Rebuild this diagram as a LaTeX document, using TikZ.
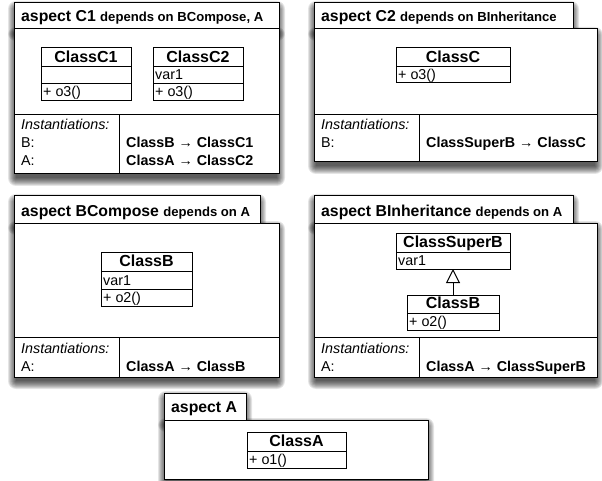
\documentclass[tikz,border=0pt]{standalone}
\usepackage{fontspec}
\setmainfont{Liberation Sans}
\usetikzlibrary{arrows.meta}
\newcommand\softshade[4]{%
  \foreach \i in {0,...,8}{%
    \fill[black,opacity=0.1,rounded corners={\i pt}] ({#1-\i+2},{#2+6-\i}) rectangle ({#3+\i-2},{#4+4+\i});}}
\newcommand\aspectframe[8]{% x1 ytab xtabr ybody x2 ybot ydiv xdiv
  \softshade{#1}{#2}{#3}{#4}
  \softshade{#1}{#4}{#5}{#6}
  \draw[frame] (#1,#2) rectangle (#3,#4);
  \draw[frame] (#1,#4) rectangle (#5,#6);
  \draw[frame] (#1,#7) -- (#5,#7);
  \draw[frame] (#8,#7) -- (#8,#6);}
\tikzset{
  frame/.style={draw=black,fill=white,line width=1pt},
  classbox/.style={draw=black,fill=white,line width=1pt,inner sep=0pt,outer sep=0pt},
  sepline/.style={draw=black,line width=1pt},
  titlet/.style={font=\bfseries,anchor=base west,inner sep=0pt},
  cname/.style={font=\fontsize{16}{19}\selectfont\bfseries,anchor=base,inner sep=0pt},
  attr/.style={font=\fontsize{14.3}{17}\selectfont,anchor=base west,inner sep=0pt},
  inst/.style={font=\fontsize{14.3}{17}\selectfont\itshape,anchor=base west,inner sep=0pt},
  lbl/.style={font=\fontsize{14.3}{17}\selectfont,anchor=base west,inner sep=0pt},
  map/.style={font=\fontsize{14.3}{17}\selectfont\bfseries,anchor=base west,inner sep=0pt},
}
\newcommand\bigtitle{\fontsize{15.8}{19}\selectfont}
\newcommand\smalltitle{\fontsize{13.1}{16}\selectfont}
\begin{document}
\begin{tikzpicture}[x=1pt,y=-1pt]
\useasboundingbox (0,0) rectangle (602,481);
\fill[white] (0,0) rectangle (602,481);

% ---------- aspect C1 ----------
\aspectframe{14}{3}{279}{29}{279}{174}{115}{119}
\node[titlet] (tC1) at (21,22) {\bigtitle aspect C1 \smalltitle depends on BCompose, A};
\node[classbox,minimum width=90pt,minimum height=53pt] (cC1) at (86,74.5) {};
\draw[sepline] (41,67) -- (131,67);
\draw[sepline] (41,84) -- (131,84);
\node[cname] (cC1n) at (86,62.5) {ClassC1};
\node[attr] (cC1o) at (43,97) {+ o3()};
\node[classbox,minimum width=90pt,minimum height=53pt] (cC2) at (198,74.5) {};
\draw[sepline] (153,67) -- (243,67);
\draw[sepline] (153,84) -- (243,84);
\node[cname] (cC2n) at (198,62.5) {ClassC2};
\node[attr] (cC2a) at (155,80) {var1};
\node[attr] (cC2o) at (155,97) {+ o3()};
\node[inst] (iC1) at (21,130) {Instantiations:};
\node[lbl] (iC1b) at (21,148) {B:};
\node[lbl] (iC1a) at (21,166) {A:};
\node[map] (mC1b) at (126,148) {ClassB → ClassC1};
\node[map] (mC1a) at (126,166) {ClassA → ClassC2};

% ---------- aspect C2 ----------
\aspectframe{314}{3}{573}{29}{597}{162}{115}{419}
\node[titlet] (tC2) at (321,22) {\bigtitle aspect C2 \smalltitle depends on BInheritance};
\node[classbox,minimum width=114pt,minimum height=35pt] (cC) at (453,65.5) {};
\draw[sepline] (396,67) -- (510,67);
\node[cname] (cCn) at (453,62.5) {ClassC};
\node[attr] (cCo) at (398,80) {+ o3()};
\node[inst] (iC2) at (321,130) {Instantiations:};
\node[lbl] (iC2b) at (321,148) {B:};
\node[map] (mC2b) at (426,148) {ClassSuperB → ClassC};

% ---------- aspect BCompose ----------
\aspectframe{14}{196}{260}{223}{279}{377}{337}{119}
\node[titlet] (tBC) at (21,216) {\bigtitle aspect BCompose \smalltitle depends on A};
\node[classbox,minimum width=91pt,minimum height=54pt] (cB1) at (146.5,279) {};
\draw[sepline] (101,271) -- (192,271);
\draw[sepline] (101,289) -- (192,289);
\node[cname] (cB1n) at (146.5,266.5) {ClassB};
\node[attr] (cB1a) at (103,285) {var1};
\node[attr] (cB1o) at (103,302) {+ o2()};
\node[inst] (iBC) at (21,353) {Instantiations:};
\node[lbl] (iBCa) at (21,371) {A:};
\node[map] (mBCa) at (126,371) {ClassA → ClassB};

% ---------- aspect BInheritance ----------
\aspectframe{314}{196}{573}{223}{597}{377}{337}{419}
\node[titlet] (tBI) at (321,216) {\bigtitle aspect BInheritance \smalltitle depends on A};
\node[classbox,minimum width=114pt,minimum height=36pt] (cSB) at (453,251) {};
\draw[sepline] (396,252) -- (510,252);
\node[cname] (cSBn) at (453,247.5) {ClassSuperB};
\node[attr] (cSBa) at (398,265) {var1};
\node[classbox,minimum width=92pt,minimum height=35pt] (cB2) at (453,312.5) {};
\draw[sepline] (407,313) -- (499,313);
\node[cname] (cB2n) at (453,308.5) {ClassB};
\node[attr] (cB2o) at (409,326) {+ o2()};
\draw[line width=1pt,-{Triangle[open,length=14pt,width=14pt,line width=1pt]}] (cB2.north) -- (cSB.south);
\node[inst] (iBI) at (321,353) {Instantiations:};
\node[lbl] (iBIa) at (321,371) {A:};
\node[map] (mBIa) at (426,371) {ClassA → ClassSuperB};

% ---------- aspect A ----------
\softshade{164}{393}{246}{420}
\softshade{164}{420}{428}{479}
\draw[frame] (164,393) rectangle (246,420);
\draw[frame] (164,420) rectangle (428,479);
\node[titlet] (tA) at (171,412) {\bigtitle aspect A};
\node[classbox,minimum width=99pt,minimum height=36pt] (cA) at (296.5,450) {};
\draw[sepline] (247,451) -- (346,451);
\node[cname] (cAn) at (296.5,446.5) {ClassA};
\node[attr] (cAo) at (249,464) {+ o1()};
\end{tikzpicture}
\end{document}
